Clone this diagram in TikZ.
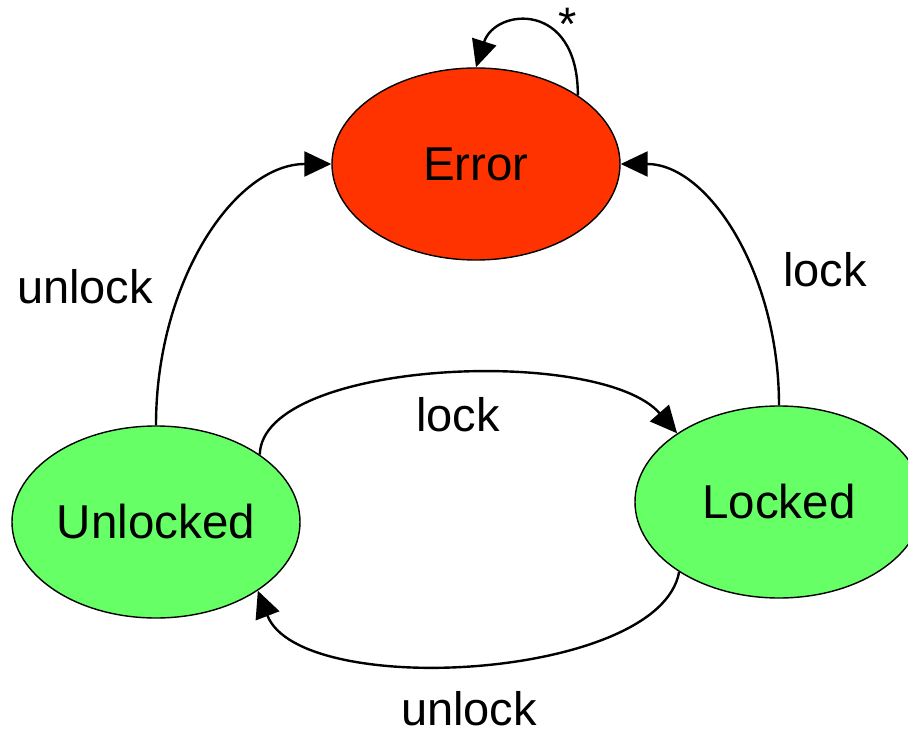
\documentclass[tikz,border=0pt]{standalone}
\usepackage{fontspec}
\setmainfont{Liberation Sans}
\usetikzlibrary{arrows.meta,shapes.geometric}
\definecolor{errred}{HTML}{FF3300}
\definecolor{stgreen}{HTML}{66FF66}
\tikzset{
  state/.style={ellipse, draw=black, line width=1.4pt, minimum width=288pt, minimum height=192pt, inner sep=0pt, font=\fontsize{47.5}{56}\selectfont},
  lbl/.style={inner sep=0pt, font=\fontsize{47}{56}\selectfont},
  conn/.style={line width=2.4pt, -{Triangle[length=27pt,width=25pt]}}
}
\begin{document}
\begin{tikzpicture}[x=1pt,y=-1pt]
\useasboundingbox (0,0) rectangle (908,738);
\node[state, fill=errred] (E) at (476,164) {Error};
\node[state, fill=stgreen] (U) at (156,522) {Unlocked};
\node[state, fill=stgreen] (L) at (779,502) {Locked};

\draw[conn] (E.34) .. controls (578,0) and (495,8) .. (E.90);
\draw[conn] (U.90) .. controls (156,281) and (235,164) .. (E.180);
\draw[conn] (L.90) .. controls (779,273) and (708,164) .. (E.0);
\draw[conn] (U.33) .. controls (262,360) and (600,345) .. (L.146);
\draw[conn] (L.215) .. controls (660,680) and (300,700) .. (U.-34);

\node[lbl] (ls) at (568,24) {*};
\node[lbl] (lu1) at (85,287) {unlock};
\node[lbl] (ll1) at (825,270) {lock};
\node[lbl] (ll2) at (458,415) {lock};
\node[lbl] (lu2) at (469,709) {unlock};
\end{tikzpicture}
\end{document}
